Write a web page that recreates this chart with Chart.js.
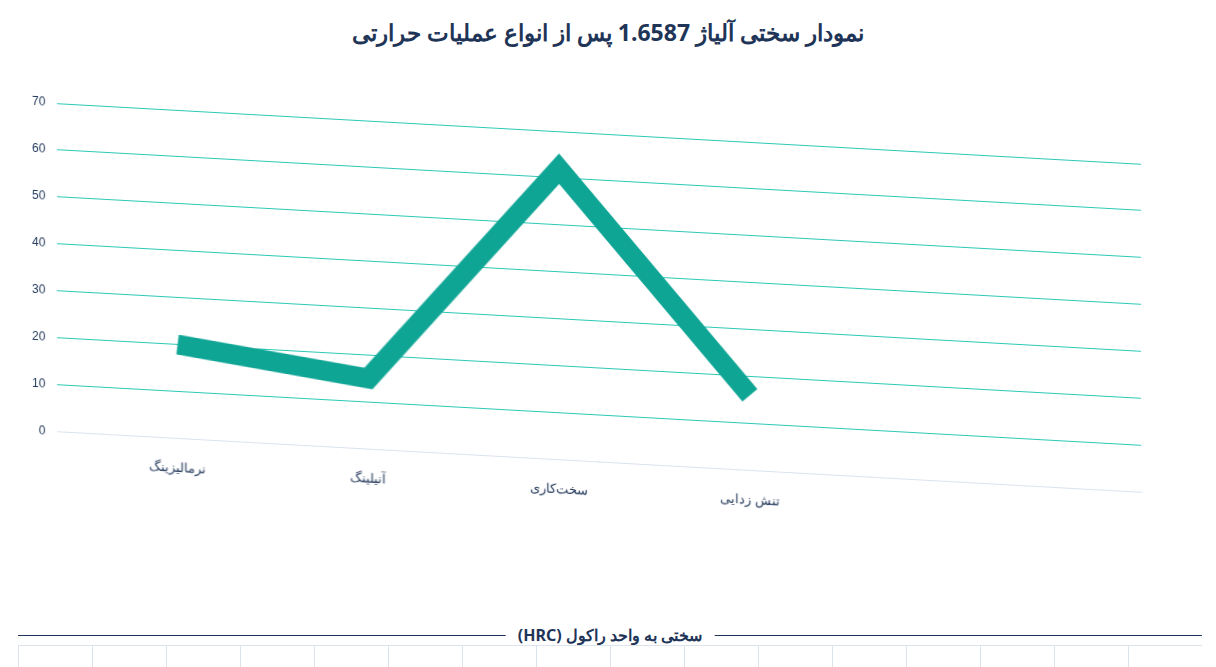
<!DOCTYPE html>
<html><head><meta charset="utf-8">
<script src="https://cdn.jsdelivr.net/npm/chart.js@4"></script>
<style>
body{margin:0;width:1216px;height:667px;background:#fff;position:relative;overflow:hidden;font-family:"Noto Sans",sans-serif}
#title{position:absolute;top:16px;left:0;width:1216px;text-align:center;font-size:23px;font-weight:bold;color:#1f3558;direction:rtl}
#wrap{position:absolute;left:0;top:40px;width:1216px;height:440px;transform-origin:0 0;transform:skewY(3.2deg)}
#legend{position:absolute;top:635px;left:18px;width:1184px;border-top:1px solid #1f3558}
#legend span{position:absolute;left:50%;transform:translate(-50%,-55%);background:#fff;padding:0 12px;font-size:16px;font-weight:bold;color:#1f3558;direction:rtl}
#grid{position:absolute;top:645px;left:18px;width:1184px;height:30px;border-top:1px solid #dde3ea;background:repeating-linear-gradient(90deg,#dde3ea 0 1px,transparent 1px 74px)}
</style></head><body>
<div id="title">نمودار سختی آلیاژ  1.6587  پس از انواع عملیات حرارتی</div>
<div id="wrap"><canvas id="c"></canvas></div>
<div id="legend"><span>سختی به واحد راکول (HRC)</span></div>
<div id="grid"></div>
<script>
const categories = ['نرمالیزینگ', 'آنیلینگ', 'سخت‌کاری', 'تنش زدایی'];
const hardness = [20, 15, 62, 16];
const yTicks = [0, 10, 20, 30, 40, 50, 60, 70];

new Chart(document.getElementById('c'), {
    type: 'line',
    data: {
        datasets: [{
            label: 'سختی به واحد راکول (HRC)',
            data: hardness.map((v, i) => ({ x: i, y: v })),
            borderColor: '#0fa595',
            borderWidth: 20,
            borderJoinStyle: 'miter',
            pointRadius: 0,
            tension: 0
        }]
    },
    options: {
        responsive: true,
        maintainAspectRatio: false,
        animation: false,
        layout: { padding: { top: 60, right: 75, left: 20 } },
        plugins: { legend: { display: false }, tooltip: { enabled: false } },
        scales: {
            x: {
                type: 'linear', min: -0.63, max: 5.05,
                afterBuildTicks: ax => { ax.ticks = categories.map((c, i) => ({ value: i })); },
                ticks: { callback: v => categories[v] || '', color: '#1f3558', font: { size: 13 }, padding: 14 },
                grid: { display: false },
                border: { color: '#dbe3ee' }
            },
            y: {
                min: 0, max: 70,
                afterBuildTicks: ax => { ax.ticks = yTicks.map(v => ({ value: v })); },
                ticks: { color: '#1f3558', font: { size: 12 }, padding: 12 },
                grid: { color: '#2cc9b5', lineWidth: 1, drawTicks: false },
                border: { display: false }
            }
        }
    }
});
</script>
</body></html>
